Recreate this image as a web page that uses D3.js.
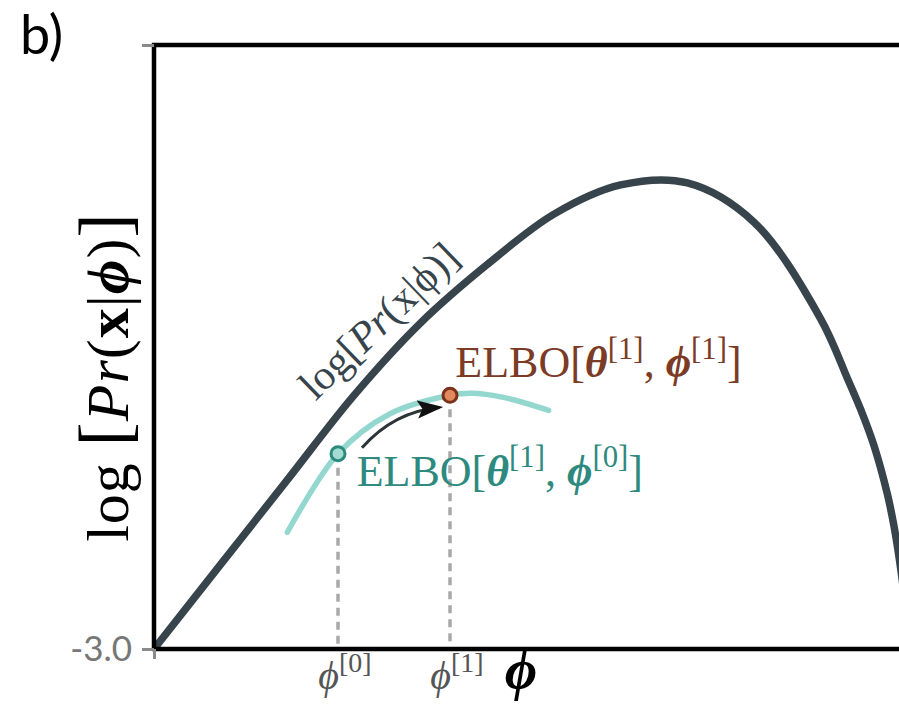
<!DOCTYPE html>
<html>
<head>
<meta charset="utf-8">
<script src="https://cdn.jsdelivr.net/npm/d3@7"></script>
<style>
  body { margin: 0; background: #fff; }
  .serif { font-family: "Liberation Serif", "DejaVu Serif", serif; }
</style>
</head>
<body>
<div id="chart"></div>
<script>
// log likelihood curve
var phiValues    = [0.00, 0.25, 0.50, 0.75, 1.00, 1.25, 1.50, 1.75, 2.00, 2.25, 2.50, 2.60, 2.65, 2.70, 2.75, 2.775, 2.80, 2.825, 2.85];
var logLikValues = [-3.00, -2.58, -2.16, -1.74, -1.38, -1.09, -0.84, -0.695, -0.685, -0.88, -1.36, -1.655, -1.81, -1.99, -2.23, -2.39, -2.60, -2.87, -3.20];

// ELBO curve for theta[1]
var elboPhi    = [0.50, 0.69, 0.88, 1.11, 1.19, 1.31, 1.48];
var elboValues = [-2.42, -2.03, -1.835, -1.74, -1.73, -1.75, -1.815];

// the two phi steps
var phiSteps  = [0.69, 1.11];
var stepElbo  = [-2.03, -1.74];
var stepNames = ["0", "1"];

var yTicks = [-3.0, 0.0];
var yTickLabels = ["-3.0", ""];

var width = 899, height = 709;
var margin = { top: 45, left: 154 };
var plotW = 800, plotH = 604;

var svg = d3.select("#chart").append("svg")
    .attr("width", width)
    .attr("height", height);

var g = svg.append("g")
    .attr("transform", "translate(" + margin.left + "," + margin.top + ")");

var x = d3.scaleLinear().domain([0, 3]).range([0, plotW]);
var y = d3.scaleLinear().domain([-3, 0]).range([plotH, 0]);

var defs = svg.append("defs");
defs.append("clipPath").attr("id", "plotclip")
  .append("rect").attr("x", 0).attr("y", 0).attr("width", plotW).attr("height", plotH);

defs.append("marker")
    .attr("id", "arrowhead")
    .attr("markerUnits", "userSpaceOnUse")
    .attr("viewBox", "0 0 20 14")
    .attr("refX", 17).attr("refY", 7)
    .attr("markerWidth", 26).attr("markerHeight", 19)
    .attr("orient", "auto")
  .append("path")
    .attr("d", "M0,0 L20,7 L0,14 L4,7 Z")
    .attr("fill", "#111");

// appends tspans; parts: {t, i (italic), b (bold), sup, s (scale)}
function mathText(sel, parts, size) {
  var shift = 0;
  parts.forEach(function(p) {
    var s = p.sup ? -0.42 * size : 0;
    var fs = (p.sup ? 0.7 : 1) * (p.s || 1) * size;
    var ts = sel.append("tspan").text(p.t)
        .attr("dy", s - shift)
        .style("font-size", fs + "px");
    if (p.i) ts.style("font-style", "italic");
    if (p.b) ts.style("font-weight", "bold");
    shift = s;
  });
}

// dashed drop lines
g.selectAll(".drop")
  .data(phiSteps)
  .enter().append("line")
    .attr("class", "drop")
    .attr("x1", function(d) { return x(d); })
    .attr("x2", function(d) { return x(d); })
    .attr("y1", function(d, i) { return y(stepElbo[i]); })
    .attr("y2", plotH)
    .attr("stroke", "#a9a9a9")
    .attr("stroke-width", 3.5)
    .attr("stroke-dasharray", "8,6");

var line = d3.line()
    .x(function(d) { return x(d[0]); })
    .y(function(d) { return y(d[1]); })
    .curve(d3.curveCatmullRom.alpha(0.5));

var clipped = g.append("g").attr("clip-path", "url(#plotclip)");

clipped.append("path")
    .datum(d3.zip(phiValues, logLikValues))
    .attr("d", line)
    .attr("fill", "none")
    .attr("stroke", "#37444b")
    .attr("stroke-width", 7.5);

clipped.append("path")
    .datum(d3.zip(elboPhi, elboValues))
    .attr("d", line)
    .attr("fill", "none")
    .attr("stroke", "#93d7ce")
    .attr("stroke-width", 5.5)
    .attr("stroke-linecap", "round");

// arrow from phi[0] to phi[1]
var a0 = [x(0.78), y(-2.0)], a1 = [x(1.07), y(-1.80)], ac = [x(0.90), y(-1.82)];
g.append("path")
    .attr("d", "M" + a0 + " Q" + ac + " " + a1)
    .attr("fill", "none")
    .attr("stroke", "#2d3438")
    .attr("stroke-width", 3)
    .attr("marker-end", "url(#arrowhead)");

// step points
g.selectAll(".step")
  .data(phiSteps)
  .enter().append("circle")
    .attr("class", "step")
    .attr("cx", function(d) { return x(d); })
    .attr("cy", function(d, i) { return y(stepElbo[i]); })
    .attr("r", 7)
    .attr("fill", function(d, i) { return i === 0 ? "#a3dbd3" : "#e2895f"; })
    .attr("stroke", function(d, i) { return i === 0 ? "#2a8a7c" : "#7a3219"; })
    .attr("stroke-width", 3);

// spines
g.append("line").attr("x1", 0).attr("x2", 0).attr("y1", -2).attr("y2", plotH + 2)
    .attr("stroke", "#000").attr("stroke-width", 4.5);
g.append("line").attr("x1", -2).attr("x2", plotW).attr("y1", 0).attr("y2", 0)
    .attr("stroke", "#000").attr("stroke-width", 4.5);
g.append("line").attr("x1", -2).attr("x2", plotW).attr("y1", plotH).attr("y2", plotH)
    .attr("stroke", "#000").attr("stroke-width", 4.5);

// y axis ticks
var yAxis = g.append("g")
    .call(d3.axisLeft(y).tickValues(yTicks).tickSize(10).tickSizeOuter(0)
      .tickFormat(function(d, i) { return yTickLabels[i]; }));
yAxis.select(".domain").remove();
yAxis.selectAll(".tick line").attr("stroke", "#8a8a8a").attr("stroke-width", 3).attr("x2", -12);
yAxis.selectAll(".tick text")
    .attr("x", -22)
    .style("font-family", "Lato, 'Open Sans', sans-serif")
    .style("font-size", "35px")
    .attr("fill", "#777");

// x axis tick at origin
var xAxis = g.append("g").attr("transform", "translate(0," + plotH + ")")
    .call(d3.axisBottom(x).tickValues([0]).tickSize(10).tickSizeOuter(0).tickFormat(""));
xAxis.select(".domain").remove();
xAxis.selectAll(".tick line").attr("stroke", "#8a8a8a").attr("stroke-width", 3);

// phi tick labels
g.selectAll(".phiLabel")
  .data(phiSteps)
  .enter().append("text")
    .attr("class", "phiLabel serif")
    .attr("x", function(d) { return x(d) + 7; })
    .attr("y", plotH + 40)
    .attr("text-anchor", "middle")
    .attr("fill", "#555")
    .each(function(d, i) {
      mathText(d3.select(this), [{ t: "\u03D5", i: 1 }, { t: "[" + stepNames[i] + "]", sup: 1 }], 40);
    });

// x axis label
g.append("text")
    .attr("class", "serif")
    .attr("x", x(1.376))
    .attr("y", plotH + 40)
    .attr("text-anchor", "middle")
    .style("font-size", "56px")
    .style("font-weight", "bold")
    .style("font-style", "italic")
    .text("\u03D5");

// y axis label
g.append("text")
    .attr("class", "serif")
    .attr("transform", "translate(-26," + y(-1.65) + ") rotate(-90)")
    .attr("text-anchor", "middle")
    .attr("fill", "#000")
    .style("letter-spacing", "1px")
    .each(function() {
      mathText(d3.select(this), [
        { t: "log " }, { t: "[", s: 1.2 }, { t: "Pr", i: 1 }, { t: "(" }, { t: "x", b: 1 },
        { t: "|" }, { t: "\u03D5", i: 1, b: 1 }, { t: ")" }, { t: "]", s: 1.2 }
      ], 60);
    });

// label along the curve
g.append("text")
    .attr("class", "serif")
    .attr("transform", "translate(" + x(0.843) + "," + y(-1.37) + ") rotate(-44)")
    .attr("text-anchor", "middle")
    .attr("dominant-baseline", "central")
    .attr("fill", "#37444b")
    .each(function() {
      mathText(d3.select(this), [
        { t: "log[" }, { t: "Pr", i: 1 }, { t: "(x|\u03D5)]" }
      ], 42);
    });

// ELBO labels
g.append("text")
    .attr("class", "serif")
    .attr("x", x(1.13))
    .attr("y", y(-1.65))
    .attr("fill", "#7b3b26")
    .each(function() {
      mathText(d3.select(this), [
        { t: "ELBO[" }, { t: "\u03B8", i: 1, b: 1 }, { t: "[1]", sup: 1 }, { t: ", " },
        { t: "\u03D5", i: 1, b: 1 }, { t: "[1]", sup: 1 }, { t: "]" }
      ], 44);
    });

g.append("text")
    .attr("class", "serif")
    .attr("x", x(0.76))
    .attr("y", y(-2.19))
    .attr("fill", "#2e8a7e")
    .each(function() {
      mathText(d3.select(this), [
        { t: "ELBO[" }, { t: "\u03B8", i: 1, b: 1 }, { t: "[1]", sup: 1 }, { t: ", " },
        { t: "\u03D5", i: 1, b: 1 }, { t: "[0]", sup: 1 }, { t: "]" }
      ], 44);
    });

// panel letter
svg.append("text")
    .attr("x", 20)
    .attr("y", 54)
    .style("font-family", "Lato, 'Open Sans', sans-serif")
    .style("font-size", "54px")
    .attr("fill", "#000")
    .text("b)");
</script>
</body>
</html>
